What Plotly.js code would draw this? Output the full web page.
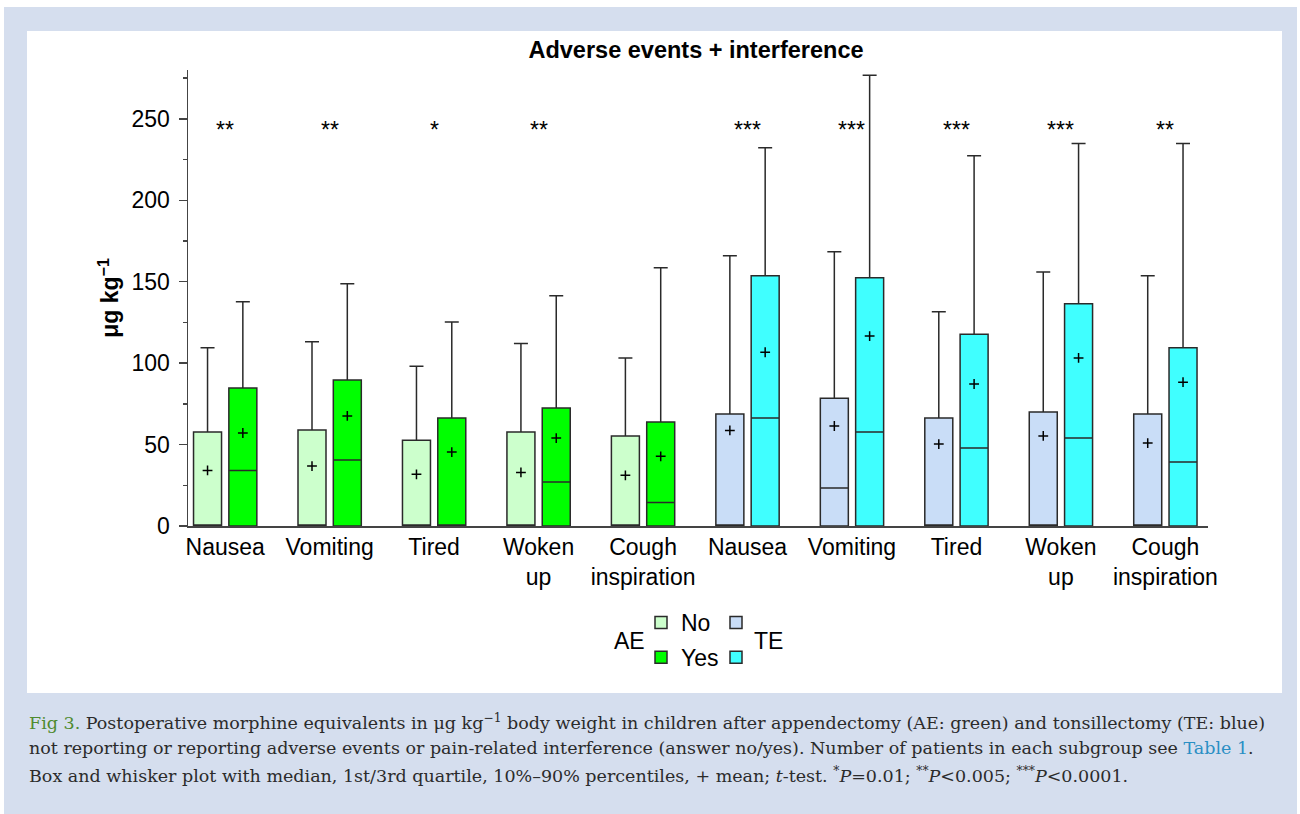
<!DOCTYPE html>
<html>
<head>
<meta charset="utf-8">
<script src="https://cdn.plot.ly/plotly-3.0.1.min.js"></script>
<style>
html,body{margin:0;padding:0;background:#ffffff;}
#chart{width:1300px;height:814px;}
</style>
</head>
<body>
<div id="chart"></div>
<script>
// ---------- data ----------
const groupLabels = ['Nausea','Vomiting','Tired','Woken<br>up','Cough<br>inspiration',
                     'Nausea','Vomiting','Tired','Woken<br>up','Cough<br>inspiration'];
const aePos = [0,1,2,3,4];
const tePos = [5,6,7,8,9];
const allPos = [0,1,2,3,4,5,6,7,8,9];

// AE (appendectomy) – answer "No"
const aeNoQ1     = [0, 0, 0, 0, 0];
const aeNoMedian = [0, 0, 0, 0, 0];
const aeNoQ3     = [57.7, 58.9, 52.6, 57.7, 55.2];
const aeNoLow    = [0, 0, 0, 0, 0];
const aeNoHigh   = [109.4, 113.1, 98.1, 112.1, 103.2];
const aeNoMean   = [34.1, 36.8, 31.7, 32.9, 31.1];
// AE – answer "Yes"
const aeYesQ1     = [0, 0, 0, 0, 0];
const aeYesMedian = [34.1, 40.5, 0, 27.0, 14.5];
const aeYesQ3     = [84.8, 89.7, 66.3, 72.5, 63.9];
const aeYesLow    = [0, 0, 0, 0, 0];
const aeYesHigh   = [137.7, 148.8, 125.2, 141.4, 158.6];
const aeYesMean   = [57.1, 67.6, 45.4, 54.0, 42.8];
// TE (tonsillectomy) – answer "No"
const teNoQ1     = [0, 0, 0, 0, 0];
const teNoMedian = [0, 23.3, 0, 0, 0];
const teNoQ3     = [68.8, 78.4, 66.3, 70.0, 68.8];
const teNoLow    = [0, 0, 0, 0, 0];
const teNoHigh   = [166.0, 168.4, 131.5, 155.9, 153.7];
const teNoMean   = [58.7, 61.4, 50.3, 55.3, 50.9];
// TE – answer "Yes"
const teYesQ1     = [0, 0, 0, 0, 0];
const teYesMedian = [66.3, 57.7, 47.9, 54.0, 39.3];
const teYesQ3     = [153.7, 152.4, 117.8, 136.5, 109.4];
const teYesLow    = [0, 0, 0, 0, 0];
const teYesHigh   = [232.2, 276.7, 227.3, 234.9, 234.9];
const teYesMean   = [106.7, 116.6, 87.2, 103.2, 88.3];

// significance (t-test) per group
const significance = ['**','**','*','**','','***','***','***','***','**'];
const starLevel = 243;

const yTickVals = [0,50,100,150,200,250];
const yMinorVals = [25,75,125,175,225,275];

// ---------- styling ----------
const FONT = 'Liberation Sans, Arial, Helvetica, sans-serif';
const SERIF = 'DejaVu Serif, Liberation Serif, serif';
const lineCol = '#2a2a2a';
const colAENo = '#ccffcc', colAEYes = '#00ff00', colTENo = '#c9ddf7', colTEYes = '#40ffff';

function boxTrace(name, x, q1, med, q3, lo, hi, fill, grp, legend, lg){
  return {
    type:'box', name:name, x:x, q1:q1, median:med, q3:q3,
    lowerfence:lo, upperfence:hi,
    fillcolor:fill, line:{color:lineCol, width:1.5},
    whiskerwidth:0.5, offsetgroup:grp, alignmentgroup:'a',
    legend:legend, legendgroup:lg, hoverinfo:'y', boxpoints:false
  };
}

const traces = [
  boxTrace('No',  aePos, aeNoQ1,  aeNoMedian,  aeNoQ3,  aeNoLow,  aeNoHigh,  colAENo,  'no',  'legend',  'g1'),
  boxTrace('Yes', aePos, aeYesQ1, aeYesMedian, aeYesQ3, aeYesLow, aeYesHigh, colAEYes, 'yes', 'legend',  'g2'),
  boxTrace('',    tePos, teNoQ1,  teNoMedian,  teNoQ3,  teNoLow,  teNoHigh,  colTENo,  'no',  'legend2', 'g3'),
  boxTrace('',    tePos, teYesQ1, teYesMedian, teYesQ3, teYesLow, teYesHigh, colTEYes, 'yes', 'legend2', 'g4'),
  {
    type:'scatter', mode:'markers', name:'mean (No)', x:allPos,
    y:aeNoMean.concat(teNoMean), offsetgroup:'no', alignmentgroup:'a',
    marker:{symbol:'cross-thin', size:7, color:'#000', line:{width:1.5, color:'#000'}},
    showlegend:false, hoverinfo:'y'
  },
  {
    type:'scatter', mode:'markers', name:'mean (Yes)', x:allPos,
    y:aeYesMean.concat(teYesMean), offsetgroup:'yes', alignmentgroup:'a',
    marker:{symbol:'cross-thin', size:7, color:'#000', line:{width:1.5, color:'#000'}},
    showlegend:false, hoverinfo:'y'
  }
];

// ---------- layout ----------
const W = 1300, H = 814, mL = 188, mR = 92, mT = 70, mB = 288;
const pw = W - mL - mR, ph = H - mT - mB;
const px = v => (v - mL) / pw;          // pixel -> paper x
const py = v => (H - mB - v) / ph;      // pixel -> paper y

const annotations = [];
allPos.forEach((p, i) => {
  if (significance[i]) annotations.push({
    x:p, y:starLevel, xref:'x', yref:'y', text:significance[i], showarrow:false,
    xanchor:'center', yanchor:'middle', font:{family:FONT, size:23, color:'#000'}
  });
});
annotations.push({x:px(629), y:py(641), xref:'paper', yref:'paper', text:'AE', showarrow:false,
  xanchor:'center', yanchor:'middle', font:{family:FONT, size:23, color:'#000'}});
annotations.push({x:px(768), y:py(641), xref:'paper', yref:'paper', text:'TE', showarrow:false,
  xanchor:'center', yanchor:'middle', font:{family:FONT, size:23, color:'#000'}});

const capFont = {family:SERIF, size:17.5, color:'#2b2b2b'};
const captionLines = [
  '<span style="color:#4f8a2f">Fig 3.</span> Postoperative morphine equivalents in μg kg<sup>−1</sup> body weight in children after appendectomy (AE: green) and tonsillectomy (TE: blue)',
  'not reporting or reporting adverse events or pain-related interference (answer no/yes). Number of patients in each subgroup see <span style="color:#2a8fc4">Table 1</span>.',
  'Box and whisker plot with median, 1st/3rd quartile, 10%–90% percentiles, + mean; <i>t</i>-test. <sup>*</sup><i>P</i>=0.01; <sup>**</sup><i>P</i>&lt;0.005; <sup>***</sup><i>P</i>&lt;0.0001.'
];
const captionY = [722, 748, 775];
captionLines.forEach((t, i) => annotations.push({
  x:px(27), y:py(captionY[i]), xref:'paper', yref:'paper', text:t, showarrow:false,
  xanchor:'left', yanchor:'middle', align:'left', font:capFont
}));

const layout = {
  width:W, height:H,
  margin:{l:mL, r:mR, t:mT, b:mB},
  paper_bgcolor:'#ffffff', plot_bgcolor:'rgba(0,0,0,0)',
  font:{family:FONT, color:'#000'},
  title:{text:'<b>Adverse events + interference</b>', x:696/W, xref:'container', xanchor:'center',
         y:(H-50)/H, yref:'container', yanchor:'middle', font:{family:FONT, size:23.5, color:'#000'}},
  boxmode:'group', boxgap:0.324, boxgroupgap:0.207,
  scattermode:'group', scattergap:0.324,
  xaxis:{range:[-0.356, 9.408], tickvals:allPos, ticktext:groupLabels, showgrid:false, zeroline:false,
         showline:true, linecolor:'#444', linewidth:1.5, ticks:'', tickfont:{family:FONT, size:23, color:'#000'},
         ticklabelstandoff:0, fixedrange:true},
  yaxis:{range:[0,280], tickvals:yTickVals, showgrid:false, zeroline:false,
         showline:true, linecolor:'#444', linewidth:1.5, ticks:'outside', ticklen:8, tickwidth:1.5, tickcolor:'#444',
         minor:{tickvals:yMinorVals, ticks:'outside', ticklen:4, tickwidth:1.5, tickcolor:'#444', showgrid:false},
         tickfont:{family:FONT, size:23, color:'#000'}, ticklabelstandoff:4,
         title:{text:'<b>μg kg<sup>−1</sup></b>', font:{family:FONT, size:23, color:'#000'}, standoff:6},
         fixedrange:true},
  legend:{x:px(641), y:py(601), xanchor:'left', yanchor:'top', orientation:'v', traceorder:'grouped',
          tracegroupgap:2, bgcolor:'rgba(0,0,0,0)', font:{family:FONT, size:23, color:'#000'}},
  legend2:{x:px(716), y:py(601), xanchor:'left', yanchor:'top', orientation:'v', traceorder:'grouped',
          tracegroupgap:2, bgcolor:'rgba(0,0,0,0)', font:{family:FONT, size:23, color:'#000'}},
  shapes:[
    {type:'rect', xref:'paper', yref:'paper', x0:px(4), x1:px(1297), y0:py(814), y1:py(7),
     fillcolor:'#d5deee', line:{width:0}, layer:'below'},
    {type:'rect', xref:'paper', yref:'paper', x0:px(27), x1:px(1282), y0:py(693), y1:py(31),
     fillcolor:'#ffffff', line:{width:0}, layer:'below'}
  ],
  annotations:annotations,
  showlegend:true
};

Plotly.newPlot('chart', traces, layout, {displayModeBar:false, staticPlot:true});
</script>
</body>
</html>
